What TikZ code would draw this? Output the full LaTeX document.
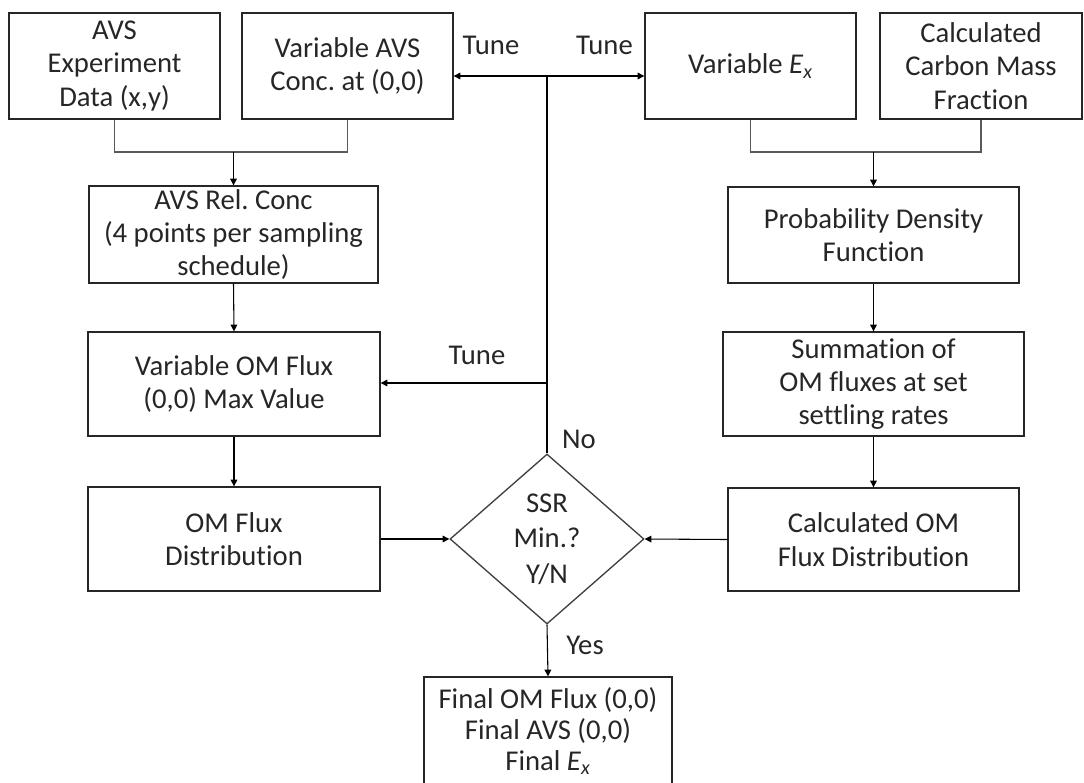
\documentclass[tikz,border=0pt]{standalone}
\usepackage{fontspec}
\setmainfont{Carlito}[Ligatures={NoCommon}]
\usetikzlibrary{shapes.geometric,arrows.meta}
\newcommand{\Ex}{\textit{E}\textsubscript{\textit{x}}}
\frenchspacing
\tikzset{
  x=0.75pt, y=-0.75pt,
  txt/.style={font=\fontsize{21.5pt}{25pt}\selectfont, text=black!85},
  procbox/.style={txt, draw=black!85, line width=1pt, rectangle, align=center, inner sep=0pt},
  decide/.style={txt, draw=black!75, line width=1pt, diamond, align=center, inner sep=0pt,
                 minimum width=145.5pt, minimum height=127.5pt},
  arr/.style={draw=black, line width=0.8pt, -{Triangle[length=5pt,width=5pt]}},
  merge/.style={draw=black!65, line width=1pt},
  loopline/.style={draw=black, line width=1.6pt},
  lbl/.style={txt, inner sep=0pt}
}
\begin{document}
\begin{tikzpicture}
\useasboundingbox (0,0) rectangle (1084,782);

% top row of inputs
\node[procbox, minimum width=158.25pt, minimum height=79.5pt] (avsdata) at (114.5,66)
  {AVS\\Experiment\\Data (x,y)};
\node[procbox, minimum width=158.25pt, minimum height=79.5pt] (avsvar) at (347.5,66)
  {Variable AVS\\Conc. at (0,0)};
\node[procbox, minimum width=158.25pt, minimum height=79.5pt] (exvar) at (750.5,66)
  {Variable \Ex};
\node[procbox, minimum width=151.5pt, minimum height=79.5pt] (carbon) at (981,66)
  {Calculated\\Carbon Mass\\Fraction};

% left column
\node[procbox, minimum width=216.75pt, minimum height=72.75pt] (relconc) at (233.5,234.5)
  {AVS Rel. Conc\\(4 points per sampling\\schedule)};
\node[procbox, minimum width=219pt, minimum height=78pt] (omvar) at (234,384)
  {Variable OM Flux\\(0,0) Max Value};
\node[procbox, minimum width=219pt, minimum height=78pt] (omdist) at (234,539)
  {OM Flux\\Distribution};

% right column
\node[procbox, minimum width=218.25pt, minimum height=72pt] (pdf) at (873.5,235)
  {Probability Density\\Function};
\node[procbox, minimum width=225.75pt, minimum height=78pt] (summ) at (873.5,384)
  {Summation of\\OM fluxes at set\\settling rates};
\node[procbox, minimum width=218.25pt, minimum height=77.25pt] (calcdist) at (873.5,539.5)
  {Calculated OM\\Flux Distribution};

% decision and result
\node[decide, font=\fontsize{21.5pt}{26.5pt}\selectfont] (ssr) at (547,539) {SSR\\Min.?\\Y/N};
\node[procbox, font=\fontsize{21.5pt}{23.25pt}\selectfont,
      minimum width=186pt, minimum height=81pt] (final) at (548,731)
  {Final OM Flux (0,0)\\Final AVS (0,0)\\Final \Ex};

% merging inputs
\coordinate (mergeL) at (233.5,152);
\coordinate (mergeR) at (873.5,152);
\draw[merge] (avsdata.south) |- (mergeL) -| (avsvar.south);
\draw[merge] (exvar.south) |- (mergeR) -| (carbon.south);
\draw[arr] (mergeL) -- (relconc.north);
\draw[arr] (mergeR) -- (pdf.north);

% column flows
\draw[arr] (relconc.south) -- (omvar.north);
\draw[arr] (omvar.south) -- (omdist.north);
\draw[arr] (pdf.south) -- (summ.north);
\draw[arr] (summ.south) -- (calcdist.north);
\draw[arr] (omdist.east) -- (ssr.west);
\draw[arr] (calcdist.west) -- (ssr.east);
\draw[arr] (ssr.south) -- (final.north);

% tuning loop
\coordinate (tunetop) at (547,76);
\coordinate (tunemid) at (547,383);
\draw[loopline] (ssr.north) -- (tunetop);
\draw[arr] (tunetop) -- (avsvar.east |- tunetop);
\draw[arr] (tunetop) -- (exvar.west |- tunetop);
\draw[arr] (tunemid) -- (omvar.east |- tunemid);

% labels
\node[lbl] (tuneA) at (491,45) {Tune};
\node[lbl] (tuneB) at (604.5,45) {Tune};
\node[lbl] (tuneC) at (477,355) {Tune};
\node[lbl] (nolbl) at (579,439) {No};
\node[lbl] (yeslbl) at (585,645) {Yes};
\end{tikzpicture}
\end{document}
